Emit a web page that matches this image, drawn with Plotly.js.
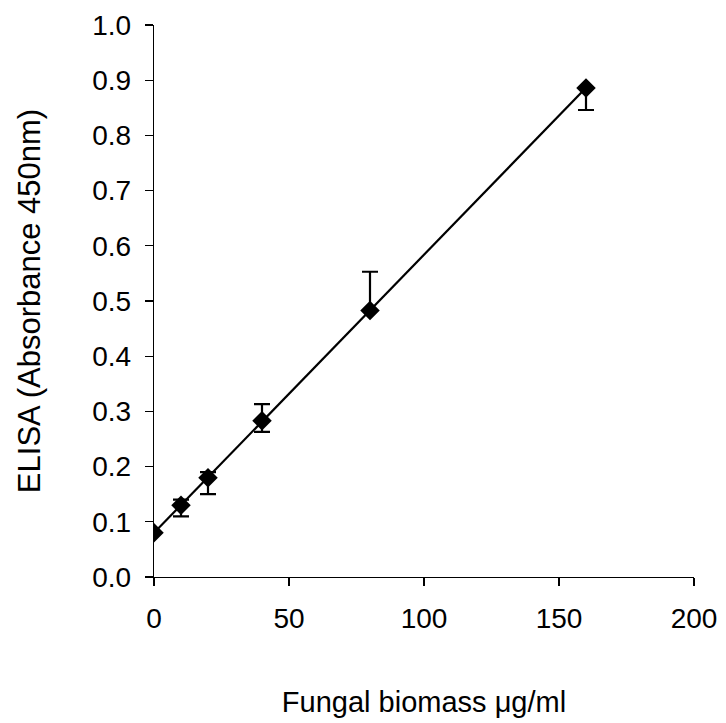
<!DOCTYPE html>
<html>
<head>
<meta charset="utf-8">
<script src="https://cdn.plot.ly/plotly-3.0.1.min.js"></script>
<style>html,body{margin:0;padding:0;background:#fff;}</style>
</head>
<body>
<div id="chart" style="width:726px;height:723px;"></div>
<script>
// Data
const biomass = [0, 10, 20, 40, 80, 160];            // µg/ml
const absorbance = [0.08, 0.13, 0.18, 0.283, 0.483, 0.886];
const errPlus = [0, 0.01, 0.01, 0.03, 0.07, 0];
const errMinus = [0, 0.02, 0.03, 0.02, 0, 0.04];
const xTicks = [0, 50, 100, 150, 200];
const yTicks = [0, 0.1, 0.2, 0.3, 0.4, 0.5, 0.6, 0.7, 0.8, 0.9, 1.0];

// Linear trend line (least squares) computed from the data
const n = biomass.length;
const mx = biomass.reduce((a, b) => a + b, 0) / n;
const my = absorbance.reduce((a, b) => a + b, 0) / n;
let sxy = 0, sxx = 0;
for (let i = 0; i < n; i++) {
  sxy += (biomass[i] - mx) * (absorbance[i] - my);
  sxx += (biomass[i] - mx) ** 2;
}
const slope = sxy / sxx;
const intercept = my - slope * mx;
const trendX = [Math.min(...biomass), Math.max(...biomass)];
const trendY = trendX.map(x => intercept + slope * x);

const font = "Liberation Sans, Arial, sans-serif";

const traces = [
  {
    x: trendX, y: trendY, type: 'scatter', mode: 'lines',
    line: {color: '#000', width: 2.2}, hoverinfo: 'skip', showlegend: false
  },
  {
    x: biomass, y: absorbance, type: 'scatter', mode: 'markers',
    marker: {symbol: 'diamond', size: 15, color: '#000'},
    error_y: {type: 'data', symmetric: false, array: errPlus, arrayminus: errMinus,
              color: '#000', thickness: 2.2, width: 8},
    showlegend: false
  }
];

const layout = {
  width: 726, height: 723,
  margin: {l: 154, r: 32, t: 25, b: 146},
  paper_bgcolor: '#fff', plot_bgcolor: '#fff',
  font: {family: font, color: '#000', size: 28},
  xaxis: {
    range: [0, 200], tickvals: xTicks, ticktext: xTicks.map(String),
    showline: true, linecolor: '#000', linewidth: 1.3,
    ticks: 'outside', ticklen: 8, tickwidth: 1.3, tickcolor: '#000',
    showgrid: false, zeroline: false,
    tickfont: {family: font, size: 28},
    ticklabelstandoff: 8,
    title: {text: 'Fungal biomass \u03bcg/ml', font: {family: font, size: 29}, standoff: 58}
  },
  yaxis: {
    range: [0, 1.0], tickvals: yTicks, ticktext: yTicks.map(v => v.toFixed(1)),
    showline: true, linecolor: '#000', linewidth: 1.3,
    ticks: 'outside', ticklen: 8, tickwidth: 1.3, tickcolor: '#000',
    showgrid: false, zeroline: false,
    tickfont: {family: font, size: 28},
    ticklabelstandoff: 8,
    title: {text: 'ELISA (Absorbance 450nm)', font: {family: font, size: 31}, standoff: 42}
  }
};

Plotly.newPlot('chart', traces, layout, {displayModeBar: false, staticPlot: true});
</script>
</body>
</html>
